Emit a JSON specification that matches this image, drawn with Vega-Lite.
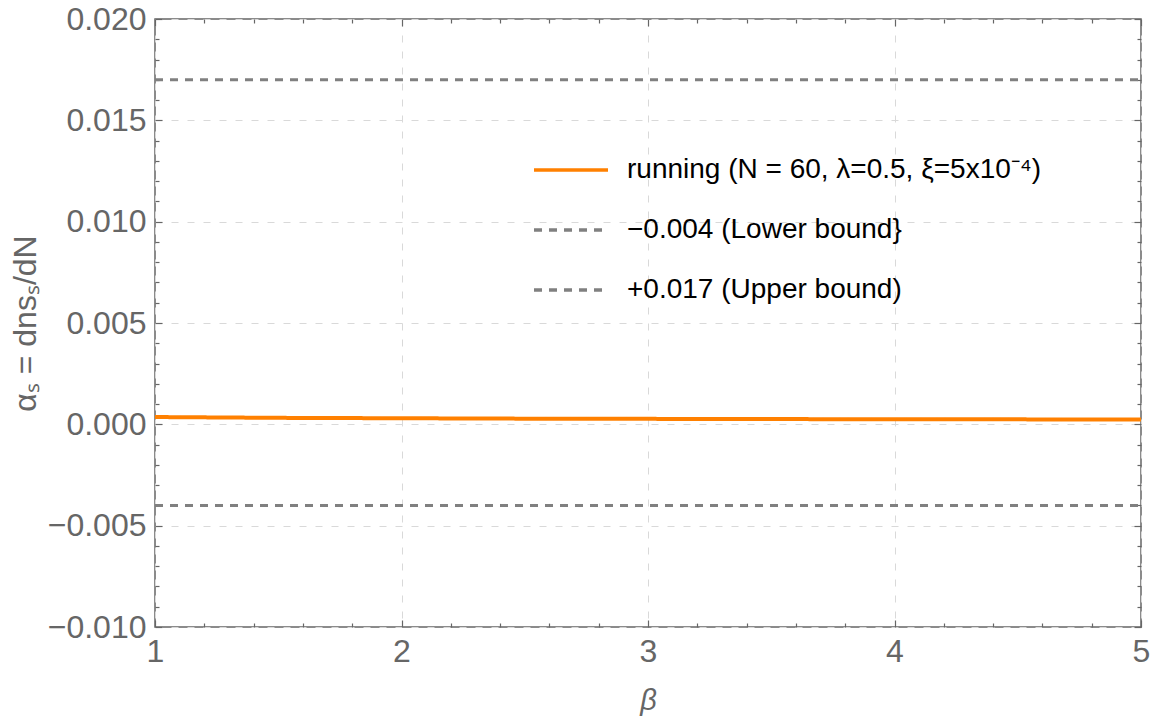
{
  "$schema": "https://vega.github.io/schema/vega-lite/v6.json",
  "width": 986,
  "height": 608,
  "autosize": "none",
  "padding": {"left": 155, "top": 19, "right": 11, "bottom": 97},
  "background": "white",
  "data": {
    "values": [
      {"beta": 1.0, "value": 0.00036, "series": "running (N = 60, λ=0.5, ξ=5x10⁻⁴)"},
      {"beta": 1.5, "value": 0.00032, "series": "running (N = 60, λ=0.5, ξ=5x10⁻⁴)"},
      {"beta": 2.0, "value": 0.0003, "series": "running (N = 60, λ=0.5, ξ=5x10⁻⁴)"},
      {"beta": 2.5, "value": 0.00028, "series": "running (N = 60, λ=0.5, ξ=5x10⁻⁴)"},
      {"beta": 3.0, "value": 0.00027, "series": "running (N = 60, λ=0.5, ξ=5x10⁻⁴)"},
      {"beta": 3.5, "value": 0.00026, "series": "running (N = 60, λ=0.5, ξ=5x10⁻⁴)"},
      {"beta": 4.0, "value": 0.00025, "series": "running (N = 60, λ=0.5, ξ=5x10⁻⁴)"},
      {"beta": 4.5, "value": 0.000245, "series": "running (N = 60, λ=0.5, ξ=5x10⁻⁴)"},
      {"beta": 5.0, "value": 0.00024, "series": "running (N = 60, λ=0.5, ξ=5x10⁻⁴)"},
      {"beta": 1.0, "value": -0.004, "series": "−0.004 (Lower bound}"},
      {"beta": 5.0, "value": -0.004, "series": "−0.004 (Lower bound}"},
      {"beta": 1.0, "value": 0.017, "series": "+0.017 (Upper bound)"},
      {"beta": 5.0, "value": 0.017, "series": "+0.017 (Upper bound)"}
    ]
  },
  "config": {
    "view": {"stroke": "#666666", "strokeWidth": 1.5},
    "axis": {
      "labelFont": "Liberation Sans",
      "labelFontSize": 32,
      "labelColor": "#666666",
      "labelFlush": false,
      "labelOverlap": false,
      "titleFont": "Liberation Sans",
      "titleColor": "#666666",
      "titleFontWeight": "normal",
      "domain": false,
      "tickColor": "#666666",
      "tickWidth": 1.2,
      "gridColor": "#d9d9d9",
      "gridDash": [7, 9],
      "gridWidth": 1
    },
    "legend": {
      "orient": "none",
      "legendX": 402,
      "legendY": 137,
      "padding": 0,
      "title": null,
      "labelFont": "Liberation Sans",
      "labelFontSize": 28,
      "labelColor": "#000000",
      "labelLimit": 800,
      "symbolType": "M-3.7,0H3.7",
      "symbolSize": 400,
      "symbolStrokeWidth": 3.5,
      "labelOffset": 42,
      "rowPadding": 32
    }
  },
  "resolve": {
    "scale": {"x": "shared", "y": "shared"},
    "axis": {"x": "independent", "y": "independent"}
  },
  "layer": [
    {
      "transform": [{"filter": "datum.series === 'running (N = 60, λ=0.5, ξ=5x10⁻⁴)'"}],
      "mark": {"type": "line", "strokeWidth": 4},
      "encoding": {
        "x": {
          "field": "beta", "type": "quantitative",
          "scale": {"domain": [1, 5], "nice": false, "zero": false},
          "axis": {
            "orient": "bottom", "values": [1, 2, 3, 4, 5], "ticks": false, "grid": true,
            "labelPadding": 9, "title": "β", "titleFontStyle": "italic", "titleFontSize": 29,
            "titleY": 73, "titleBaseline": "middle"
          }
        },
        "y": {
          "field": "value", "type": "quantitative",
          "scale": {"domain": [-0.01, 0.02], "nice": false, "zero": false},
          "axis": {
            "orient": "left", "values": [-0.01, -0.005, 0, 0.005, 0.01, 0.015, 0.02],
            "format": ".3f", "ticks": false, "grid": true, "labelPadding": 9,
            "title": "αₛ = dnsₛ/dN", "titleFontSize": 32, "titleX": -130, "titleY": 304,
            "titleAngle": -90, "titleAlign": "center", "titleBaseline": "middle"
          }
        },
        "color": {
          "field": "series", "type": "nominal",
          "scale": {
            "domain": ["running (N = 60, λ=0.5, ξ=5x10⁻⁴)", "−0.004 (Lower bound}", "+0.017 (Upper bound)"],
            "range": ["#ff8000", "#808080", "#808080"]
          }
        },
        "strokeDash": {
          "field": "series", "type": "nominal",
          "scale": {
            "domain": ["running (N = 60, λ=0.5, ξ=5x10⁻⁴)", "−0.004 (Lower bound}", "+0.017 (Upper bound)"],
            "range": [[1, 0], [8, 7], [8, 7]]
          }
        }
      }
    },
    {
      "transform": [{"filter": "datum.series !== 'running (N = 60, λ=0.5, ξ=5x10⁻⁴)'"}],
      "mark": {"type": "line", "strokeWidth": 3},
      "encoding": {
        "x": {
          "field": "beta", "type": "quantitative",
          "axis": {"orient": "bottom", "values": [1, 2, 3, 4, 5], "tickSize": -7, "labels": false, "grid": false, "title": null}
        },
        "y": {
          "field": "value", "type": "quantitative",
          "axis": {"orient": "left", "values": [-0.01, -0.005, 0, 0.005, 0.01, 0.015, 0.02], "tickSize": -7, "labels": false, "grid": false, "title": null}
        },
        "color": {"field": "series", "type": "nominal"},
        "strokeDash": {"field": "series", "type": "nominal"},
        "detail": {"field": "series", "type": "nominal"}
      }
    },
    {
      "mark": {"type": "point", "opacity": 0},
      "encoding": {
        "x": {
          "field": "beta", "type": "quantitative",
          "axis": {"orient": "bottom", "values": [1.2, 1.4, 1.6, 1.8, 2.2, 2.4, 2.6, 2.8, 3.2, 3.4, 3.6, 3.8, 4.2, 4.4, 4.6, 4.8], "tickSize": -4, "labels": false, "grid": false, "title": null}
        },
        "y": {
          "field": "value", "type": "quantitative",
          "axis": {"orient": "left", "values": [-0.009, -0.008, -0.007, -0.006, -0.004, -0.003, -0.002, -0.001, 0.001, 0.002, 0.003, 0.004, 0.006, 0.007, 0.008, 0.009, 0.011, 0.012, 0.013, 0.014, 0.016, 0.017, 0.018, 0.019], "tickSize": -4, "labels": false, "grid": false, "title": null}
        }
      }
    },
    {
      "mark": {"type": "point", "opacity": 0},
      "encoding": {
        "x": {
          "field": "beta", "type": "quantitative",
          "axis": {"orient": "top", "values": [1, 2, 3, 4, 5], "tickSize": -7, "labels": false, "grid": false, "title": null}
        },
        "y": {
          "field": "value", "type": "quantitative",
          "axis": {"orient": "right", "values": [-0.01, -0.005, 0, 0.005, 0.01, 0.015, 0.02], "tickSize": -7, "labels": false, "grid": false, "title": null}
        }
      }
    },
    {
      "mark": {"type": "point", "opacity": 0},
      "encoding": {
        "x": {
          "field": "beta", "type": "quantitative",
          "axis": {"orient": "top", "values": [1.2, 1.4, 1.6, 1.8, 2.2, 2.4, 2.6, 2.8, 3.2, 3.4, 3.6, 3.8, 4.2, 4.4, 4.6, 4.8], "tickSize": -4, "labels": false, "grid": false, "title": null}
        },
        "y": {
          "field": "value", "type": "quantitative",
          "axis": {"orient": "right", "values": [-0.009, -0.008, -0.007, -0.006, -0.004, -0.003, -0.002, -0.001, 0.001, 0.002, 0.003, 0.004, 0.006, 0.007, 0.008, 0.009, 0.011, 0.012, 0.013, 0.014, 0.016, 0.017, 0.018, 0.019], "tickSize": -4, "labels": false, "grid": false, "title": null}
        }
      }
    }
  ]
}
